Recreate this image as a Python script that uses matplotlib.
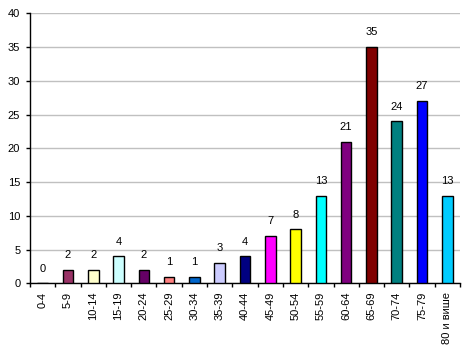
import matplotlib
matplotlib.use("Agg")
import matplotlib.pyplot as plt

categories = ["0-4", "5-9", "10-14", "15-19", "20-24", "25-29", "30-34", "35-39",
              "40-44", "45-49", "50-54", "55-59", "60-64", "65-69", "70-74",
              "75-79", "80 и више"]
values = [0, 2, 2, 4, 2, 1, 1, 3, 4, 7, 8, 13, 21, 35, 24, 27, 13]
bar_colors = ["#FFFFFF", "#993366", "#FFFFCC", "#CCFFFF", "#660066", "#FF8080",
              "#0066CC", "#CCCCFF", "#000080", "#FF00FF", "#FFFF00", "#00FFFF",
              "#800080", "#800000", "#008080", "#0000FF", "#00CCFF"]

plt.rcParams['font.family'] = ['Liberation Sans', 'DejaVu Sans']
fs = 8

fig = plt.figure(figsize=(4.71, 3.53), dpi=100)
ax = fig.add_axes([0.0637, 0.1974, 0.9129, 0.7644])

x = list(range(len(categories)))
ax.bar(x, values, width=0.42, color=bar_colors, edgecolor="black", linewidth=1, zorder=3)
for xi, v in zip(x, values):
    ax.annotate(str(v), (xi, v), xytext=(0, 7), textcoords="offset points",
                ha="center", va="bottom", fontsize=fs)

ax.set_xlim(-0.5, len(categories) - 0.5)
ax.set_ylim(0, 40)
ax.set_yticks(range(0, 41, 5))
ax.yaxis.grid(True, color="#C0C0C0", linewidth=1)
ax.set_axisbelow(True)

ax.set_xticks([i + 0.5 for i in range(-1, len(categories))])
ax.set_xticklabels([])
ax.set_xticks(x, minor=True)
ax.set_xticklabels(categories, minor=True, rotation=90, fontsize=fs)
ax.tick_params(axis="x", which="minor", length=0, pad=6)
ax.tick_params(axis="x", which="major", length=3, direction="out", width=1)
ax.tick_params(axis="y", length=3, width=1, labelsize=fs, pad=4)

for s in ["top", "right"]:
    ax.spines[s].set_visible(False)
for s in ["left", "bottom"]:
    ax.spines[s].set_color("black")
    ax.spines[s].set_linewidth(1)

fig.savefig("out.png", dpi=100)
